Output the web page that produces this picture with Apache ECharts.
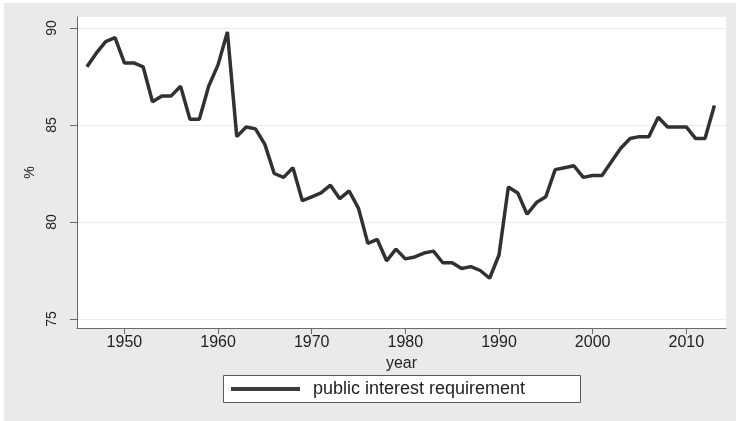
<!DOCTYPE html>
<html>
<head>
<meta charset="utf-8">
<script src="https://cdn.jsdelivr.net/npm/echarts@6/dist/echarts.min.js"></script>
<style>
html,body{margin:0;padding:0;background:#fff;}
#c{width:736px;height:421px;}
</style>
</head>
<body>
<div id="c"></div>
<script>
const years = [1946,1947,1948,1949,1950,1951,1952,1953,1954,1955,1956,1957,1958,1959,1960,1961,1962,1963,1964,1965,1966,1967,1968,1969,1970,1971,1972,1973,1974,1975,1976,1977,1978,1979,1980,1981,1982,1983,1984,1985,1986,1987,1988,1989,1990,1991,1992,1993,1994,1995,1996,1997,1998,1999,2000,2001,2002,2003,2004,2005,2006,2007,2008,2009,2010,2011,2012,2013];
const publicInterest = [88.0,88.7,89.3,89.5,88.2,88.2,88.0,86.2,86.5,86.5,87.0,85.3,85.3,87.0,88.1,89.8,84.4,84.9,84.8,84.0,82.5,82.3,82.8,81.1,81.3,81.5,81.9,81.2,81.6,80.7,78.9,79.1,78.0,78.6,78.1,78.2,78.4,78.5,77.9,77.9,77.6,77.7,77.5,77.1,78.3,81.8,81.5,80.4,81.0,81.3,82.7,82.8,82.9,82.3,82.4,82.4,83.1,83.8,84.3,84.4,84.4,85.4,84.9,84.9,84.9,84.3,84.3,86.0];
const xTicks = [1950,1960,1970,1980,1990,2000,2010];
const yTicks = [75,80,85,90];
const seriesName = 'public interest requirement';

const chart = echarts.init(document.getElementById('c'), null, {renderer:'canvas'});
const font = '"Liberation Sans", Arial, Helvetica, sans-serif';
chart.setOption({
  backgroundColor: '#ffffff',
  animation: false,
  textStyle: {fontFamily: font},
  graphic: [
    {type:'rect', z:-100, silent:true, shape:{x:4,y:3,width:732,height:418}, style:{fill:'#eaeaea'}},
    {type:'rect', z:-50, silent:true, shape:{x:223.5,y:375.5,width:357,height:27}, style:{fill:'#ffffff', stroke:'#5a5a5a', lineWidth:1}}
  ],
  grid: {left:77, right:10, top:17, bottom:93, show:true, backgroundColor:'#ffffff', borderWidth:0},
  xAxis: {
    type:'value', min:1944.94, max:2014.24,
    name:'year', nameLocation:'middle', nameGap:25,
    nameTextStyle:{fontSize:16, color:'#222', fontFamily:font},
    axisLine:{show:true, lineStyle:{color:'#6a6a6a', width:1}},
    axisTick:{show:true, length:6, customValues:xTicks, lineStyle:{color:'#6a6a6a'}},
    axisLabel:{customValues:xTicks, formatter:(v)=>String(v), fontSize:16, color:'#222', margin:7, fontFamily:font},
    splitLine:{show:false}
  },
  yAxis: {
    type:'value', min:74.536, max:90.567,
    name:'%', nameLocation:'middle', nameGap:38, nameRotate:90,
    nameTextStyle:{fontSize:14, color:'#222', fontFamily:font},
    axisLine:{show:true, lineStyle:{color:'#6a6a6a', width:1}},
    axisTick:{show:true, length:7, customValues:yTicks, lineStyle:{color:'#6a6a6a'}},
    axisLabel:{customValues:yTicks, formatter:(v)=>String(v), rotate:90, fontSize:14, color:'#222', margin:18, fontFamily:font},
    splitLine:{show:true, lineStyle:{color:'#ececec', width:1}}
  },
  legend: {
    show:true, left:231, top:380, orient:'horizontal',
    itemWidth:69, itemHeight:14, padding:0,
    textStyle:{fontSize:18, color:'#222', padding:[0,0,0,8], fontFamily:font},
    data:[{name:seriesName, icon:'path://M0,0 L69,0 L69,4 L0,4 Z', itemStyle:{color:'#3a3c3e'}}]
  },
  series: [{
    name: seriesName,
    type:'line',
    data: years.map((y,i)=>[y, publicInterest[i]]),
    showSymbol:false, symbol:'none',
    lineStyle:{color:'#2f3133', width:3.5},
    itemStyle:{color:'#2f3133'}
  }]
});
</script>
</body>
</html>
